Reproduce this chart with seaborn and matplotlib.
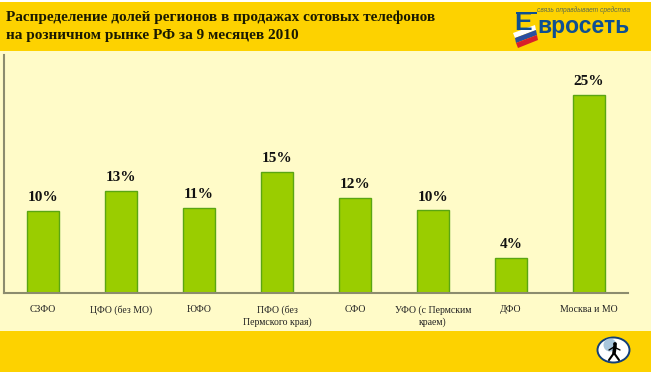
#!/usr/bin/env python3
import pandas as pd
import seaborn as sns
import matplotlib.pyplot as plt
from matplotlib.patches import Rectangle, Circle, Ellipse, Polygon

regions = ["СЗФО", "ЦФО (без МО)", "ЮФО", "ПФО (без\nПермского края)", "СФО",
           "УФО (с Пермским\nкраем)", "ДФО", "Москва и МО"]
shares = [10.3, 12.9, 10.7, 15.2, 12.0, 10.4, 4.4, 25.0]
share_labels = ["10%", "13%", "11%", "15%", "12%", "10%", "4%", "25%"]
title = "Распределение долей регионов в продажах сотовых телефонов\nна розничном рынке РФ за 9 месяцев 2010"

GOLD = "#fdd200"
CREAM = "#fffbc8"
BLUE = "#0e4f92"
W, H = 651, 372

sns.set_theme(style="white")
plt.rcParams["font.family"] = ["Liberation Serif", "DejaVu Serif"]

fig = plt.figure(figsize=(W / 100, H / 100), dpi=100, facecolor="white")

def box(x0, y0, x1, y1, color, z=0):
    fig.add_artist(Rectangle((x0 / W, 1 - y1 / H), (x1 - x0) / W, (y1 - y0) / H,
                             transform=fig.transFigure, fc=color, ec="none", zorder=z))

# slide background
box(0, 2, W, 51, GOLD)
box(0, 51, W, 331, CREAM)
box(0, 331, W, H, GOLD)

ax = fig.add_axes([4 / W, 1 - 293 / H, 624 / W, 238 / H])
ax.patch.set_alpha(0)
df = pd.DataFrame({"region": regions, "share": shares})
sns.barplot(data=df, x="region", y="share", color="#9acd00", saturation=1,
            width=0.41, edgecolor="#5aa513", linewidth=1, ax=ax)
ax.set_xlim(-0.5, 7.5)
ax.set_ylim(0, 30)
ax.set_xlabel("")
ax.set_ylabel("")
ax.set_yticks([])
ax.tick_params(axis="x", length=0, pad=9, labelsize=7, colors="#222222")
ax.set_xticks(range(len(regions)))
ax.set_xticklabels(regions, linespacing=1.3, va="top")
ax.bar_label(ax.containers[0], labels=share_labels, padding=5, fontsize=11,
             fontweight="bold", color="#111111")
sns.despine(ax=ax)
ax.spines["left"].set_color("#8c8c6e")
ax.spines["bottom"].set_color("#8c8c6e")
ax.spines["left"].set_linewidth(1.5)
ax.spines["bottom"].set_linewidth(1.5)

fig.text(6 / W, 1 - 10 / H, title, fontsize=11, fontweight="bold", color="#1a1a00",
         ha="left", va="top", linespacing=1.5)

# logo
fig.text(537 / W, 1 - 26 / H, "вросеть", fontsize=16.5, fontweight="bold", color=BLUE,
         family=["Liberation Sans"], ha="left", va="center")
fig.text(514 / W, 1 - 23 / H, "Е", fontsize=19, fontweight="bold", color=BLUE,
         family=["Liberation Sans"], ha="left", va="center")
box(516, 12, 537, 14, BLUE, z=3)
fig.text(537 / W, 1 - 10.5 / H, "связь оправдывает средства", fontsize=4.8, style="italic",
         color="#5a6a50", family=["Liberation Sans"], ha="left", va="center")
flag = [((513, 33), (535, 25), (536, 30), (515, 38), "white"),
        ((515, 38), (536, 30), (537, 35), (516, 43), "#2a4fa0"),
        ((516, 43), (537, 35), (538, 40), (518, 48), "#d8202a")]
for a, b, c, d, col in flag:
    fig.add_artist(Polygon([(p[0] / W, 1 - p[1] / H) for p in (a, b, c, d)],
                           transform=fig.transFigure, fc=col, ec="none", zorder=3))

# walking man badge
badge = fig.add_axes([595 / W, 1 - 366 / H, 37 / W, 32 / H])
badge.set_xlim(595, 632)
badge.set_ylim(366, 334)
badge.axis("off")
badge.add_patch(Ellipse((613.5, 350), 32, 25, fc="white", ec="#123f7a", lw=1.4))
badge.add_patch(Circle((610, 345), 6.5, fc="#a9c6dc", ec="none"))
badge.add_patch(Circle((615, 344), 1.9, fc="black", ec="none"))
badge.plot([615, 614], [346, 353], color="black", lw=2.6)
badge.plot([609, 614, 620], [350, 347, 350], color="black", lw=1)
badge.plot([609, 614, 619], [360, 353, 360], color="black", lw=1.5)

fig.savefig("out.png", dpi=100)
